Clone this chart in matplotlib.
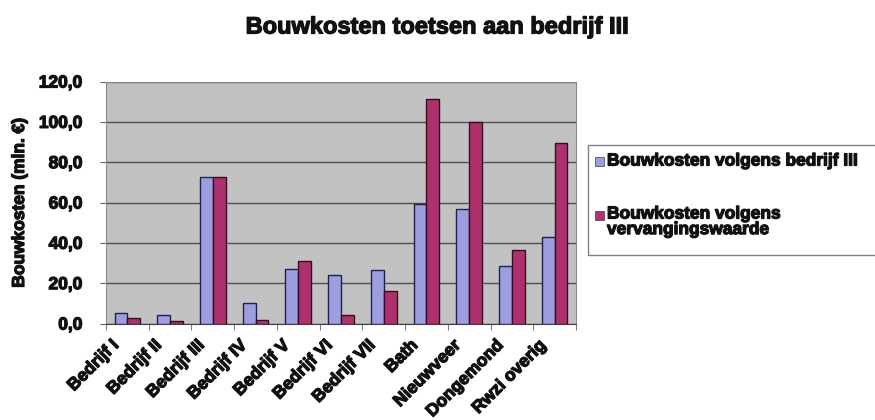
import numpy as np
import matplotlib.pyplot as plt
import matplotlib.patheffects as pe
from matplotlib.patches import Rectangle
from matplotlib.transforms import ScaledTranslation

# data (mln. euro)
categories = ['Bedrijf I', 'Bedrijf II', 'Bedrijf III', 'Bedrijf IV', 'Bedrijf V',
              'Bedrijf VI', 'Bedrijf VII', 'Bath', 'Nieuwveer', 'Dongemond', 'Rwzi overig']
kosten_bedrijf = [5.0, 4.0, 72.5, 10.3, 26.8, 24.0, 26.5, 59.3, 56.8, 28.5, 43.0]
kosten_vervanging = [2.5, 1.2, 72.5, 1.5, 30.8, 4.0, 16.0, 111.4, 99.7, 36.4, 89.4]
series_names = ['Bouwkosten volgens bedrijf III', 'Bouwkosten volgens\nvervangingswaarde']
series_colors = ['#9d9de2', '#b0306e']

plt.rcParams['font.family'] = ['Liberation Sans', 'DejaVu Sans']
plt.rcParams['font.weight'] = 'bold'
heavy = [pe.withStroke(linewidth=0.9, foreground='#111111')]
W, H = 875, 420

fig = plt.figure(figsize=(8.75, 4.2), dpi=100)
ax = fig.add_axes([106/W, 1-323.5/H, 470/W, 242/H])
ax.set_facecolor('#c2c2c2')

x = np.arange(len(categories))
w = 0.3
ax.bar(x - w/2, kosten_bedrijf, w, color=series_colors[0], edgecolor='#202048', linewidth=1.0,
       zorder=3)
ax.bar(x + w/2, kosten_vervanging, w, color=series_colors[1], edgecolor='#301020', linewidth=1.0,
       zorder=3)

ax.set_xlim(-0.5, len(categories) - 0.5)
ax.set_ylim(0, 120)
ax.set_yticks(np.arange(0, 121, 20))
ax.set_yticklabels([('%.1f' % v).replace('.', ',') for v in np.arange(0, 121, 20)],
                   fontsize=12.5, fontweight='bold', color='#111111')
ax.yaxis.grid(True, color='#505050', linewidth=1.0, zorder=0)
ax.tick_params(axis='y', length=4, color='#606060', pad=13)

# category ticks on the boundaries, labels in the middle
ax.set_xticks(np.arange(-0.5, len(categories)), minor=False)
ax.set_xticklabels([])
ax.set_xticks(x, minor=True)
ax.set_xticklabels(categories, minor=True, rotation=45, ha='right', va='center',
                   rotation_mode='anchor', fontsize=12.5, fontweight='bold', color='#111111')
ax.tick_params(axis='x', which='major', length=4, color='#808080')
ax.tick_params(axis='x', which='minor', length=0, pad=11)
shift = ScaledTranslation(-11/100, -4/100, fig.dpi_scale_trans)
for lab in ax.get_xticklabels(minor=True):
    lab.set_transform(lab.get_transform() + shift)
    lab.set_path_effects(heavy)
for lab in ax.get_yticklabels():
    lab.set_path_effects(heavy)

for s in ax.spines.values():
    s.set_color('#8a8a8a')
ax.spines['bottom'].set_color('#404040')

ax.set_ylabel('Bouwkosten (mln. €)', fontsize=12.5, fontweight='bold', color='#111111',
              path_effects=heavy)
ax.yaxis.set_label_coords(-79/470, 0.5)
fig.text(0.5, 1-27/H, 'Bouwkosten toetsen aan bedrijf III', ha='center', va='center',
         fontsize=17, fontweight='bold', color='#111111', path_effects=heavy)

# legend drawn by hand: the square sits beside the first line of each entry
def px(xp, yp):
    return xp / W, 1 - yp / H

fig.patches.append(Rectangle(px(588, 255), 300/W, 110/H, transform=fig.transFigure,
                             facecolor='white', edgecolor='#808080', linewidth=1.0))
for i, (name, col) in enumerate(zip(series_names, series_colors)):
    yc = [162, 215][i]
    fig.patches.append(Rectangle(px(595, yc + 4.5), 9/W, 9/H, transform=fig.transFigure,
                                 facecolor=col, edgecolor='#404040', linewidth=0.5))
    fig.text(*px(607, yc - 8.5), name, ha='left', va='top', fontsize=12.5, fontweight='bold',
             color='#111111', linespacing=1.05, path_effects=heavy)

fig.savefig('out.png', dpi=100)
